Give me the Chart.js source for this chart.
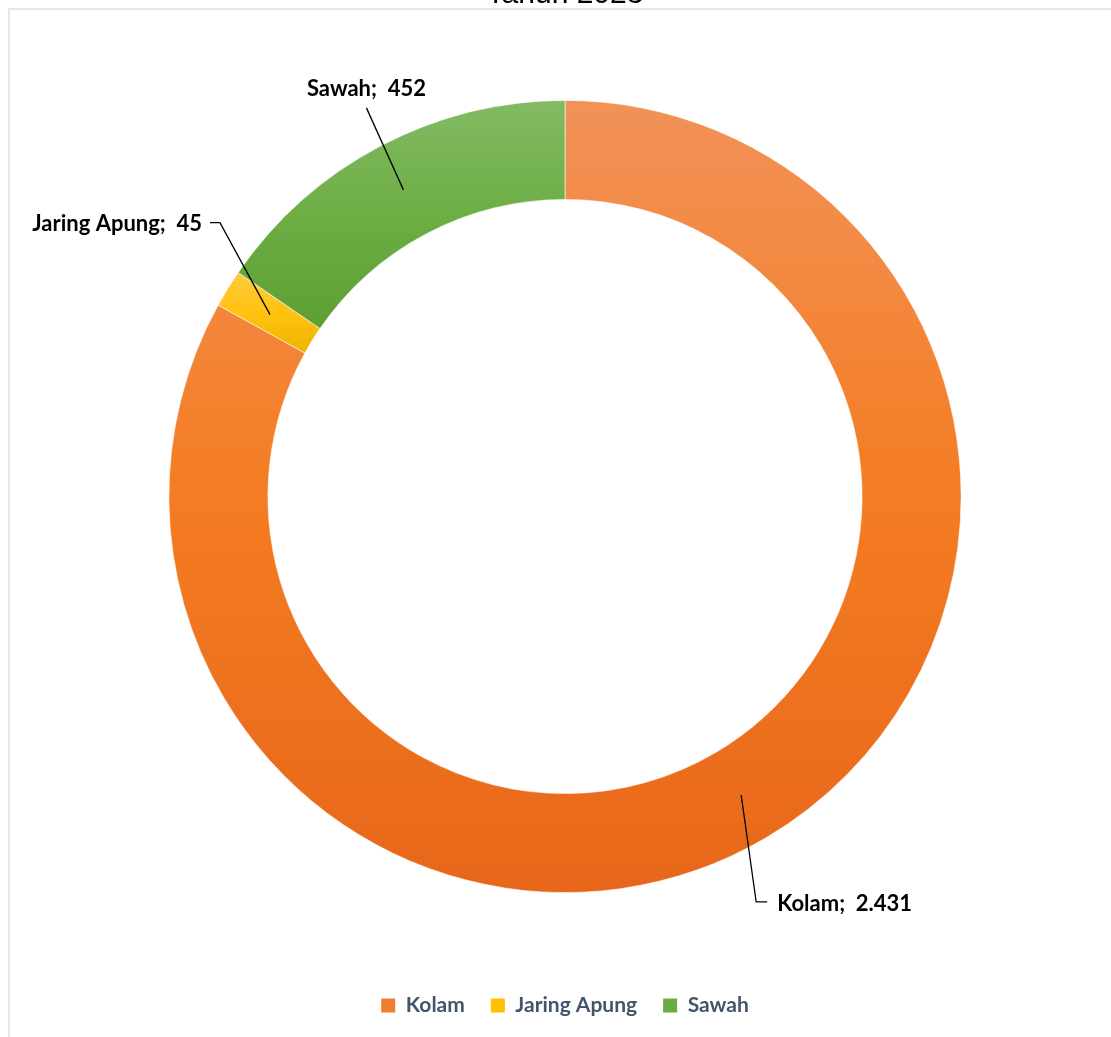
<!DOCTYPE html>
<html>
<head>
<meta charset="utf-8">
<script src="https://cdn.jsdelivr.net/npm/chart.js@4"></script>
<style>
  html, body { margin: 0; padding: 0; background: #fff; overflow: hidden; }
  body { width: 1111px; height: 1037px; position: relative; }
  #frame { position: absolute; left: 8px; top: 8px; width: 1200px; height: 1200px; border: 2px solid #E3E6EB; box-sizing: border-box; }
  #wrap { position: absolute; left: 9px; top: -40px; width: 1112px; height: 1077px; }
</style>
</head>
<body>
<div id="frame"></div>
<div id="wrap"><canvas id="chart"></canvas></div>
<script>
// data
const kategori = ["Kolam", "Jaring Apung", "Sawah"];
const nilai = [2431, 45, 452];
const labelTeks = ["Kolam;  2.431", "Jaring Apung;  45", "Sawah;  452"];

// warna gradasi (atas -> bawah) tiap irisan
const warnaAtas = ["#F29258", "#FFCA3E", "#83BA63"];
const warnaTengah = ["#F47C22", "#FFC210", "#6DAE45"];
const warnaBawah = ["#E7671A", "#EDB500", "#5E9F32"];
const warnaLegend = ["#F07E30", "#FFC000", "#6AAB45"];

// gradasi vertikal sesuai batas tiap irisan
function sliceGradient(context) {
  const chart = context.chart;
  const area = chart.chartArea;
  const i = context.dataIndex;
  if (!area) return warnaTengah[i];
  const total = nilai.reduce((a, b) => a + b, 0);
  let a0 = 0;
  for (let k = 0; k < i; k++) a0 += nilai[k] / total * Math.PI * 2;
  const a1 = a0 + nilai[i] / total * Math.PI * 2;
  const cx = (area.left + area.right) / 2;
  const cy = (area.top + area.bottom) / 2;
  const R = Math.min(area.width, area.height) / 2;
  const r = R * 0.75;
  const ys = [];
  [a0, a1].forEach(a => {
    ys.push(cy - R * Math.cos(a));
    ys.push(cy - r * Math.cos(a));
  });
  if (a0 <= 0 || a1 >= Math.PI * 2) ys.push(cy - R);
  if (a0 <= Math.PI && a1 >= Math.PI) ys.push(cy + R);
  const top = Math.min(...ys);
  const bottom = Math.max(...ys);
  const g = chart.ctx.createLinearGradient(0, top, 0, bottom);
  g.addColorStop(0, warnaAtas[i]);
  g.addColorStop(0.5, warnaTengah[i]);
  g.addColorStop(1, warnaBawah[i]);
  return g;
}

// label data dengan garis penunjuk
const leaderPlugin = {
  id: "leaderLabels",
  afterDatasetsDraw(chart, args, opts) {
    const ctx = chart.ctx;
    const meta = chart.getDatasetMeta(0);
    ctx.save();
    ctx.font = "bold 22px Lato";
    ctx.fillStyle = "#000";
    ctx.strokeStyle = "#000";
    ctx.lineWidth = 1.3;
    ctx.textBaseline = "middle";
    meta.data.forEach((arc, i) => {
      const p = arc.getProps(["x", "y", "startAngle", "endAngle", "innerRadius", "outerRadius"], true);
      const mid = (p.startAngle + p.endAngle) / 2;
      const rm = (p.innerRadius + p.outerRadius) / 2;
      const ax = p.x + Math.cos(mid) * rm;
      const ay = p.y + Math.sin(mid) * rm;
      const o = opts.offsets[i];
      const bx = ax + o.dx;
      const by = ay + o.dy;
      ctx.beginPath();
      ctx.moveTo(ax, ay);
      ctx.lineTo(bx, by);
      if (o.tail) ctx.lineTo(bx + o.tail, by);
      ctx.stroke();
      ctx.textAlign = o.align;
      ctx.fillText(labelTeks[i], bx + o.tx, by + o.ty);
    });
    ctx.restore();
  }
};

new Chart(document.getElementById("chart"), {
  type: "doughnut",
  data: {
    labels: kategori,
    datasets: [{
      data: nilai,
      backgroundColor: sliceGradient,
      borderColor: "rgba(255,255,255,0.7)",
      borderWidth: 0.8
    }]
  },
  options: {
    responsive: true,
    maintainAspectRatio: false,
    animation: false,
    cutout: "75%",
    layout: { padding: { top: 0, bottom: 11, left: 0, right: 0 } },
    plugins: {
      title: {
        display: true,
        text: "Tahun 2023",
        color: "#000",
        font: { family: "Liberation Sans", size: 30, weight: "normal", lineHeight: 1.2 },
        padding: { top: 17, bottom: 87 }
      },
      legend: {
        position: "bottom",
        title: { display: true, text: "", font: { size: 1, lineHeight: 1 }, padding: { top: 75, bottom: 0 } },
        labels: {
          boxWidth: 14,
          boxHeight: 14,
          padding: 26,
          color: "#44546A",
          font: { family: "Lato", size: 21, weight: "bold" },
          generateLabels(chart) {
            return kategori.map((k, i) => ({
              text: k,
              fillStyle: warnaLegend[i],
              strokeStyle: warnaLegend[i],
              lineWidth: 0,
              fontColor: "#44546A",
              index: i
            }));
          }
        }
      },
      tooltip: { enabled: false },
      leaderLabels: {
        offsets: [
          { dx: 15, dy: 107, tail: 11, align: "left", tx: 21, ty: 2 },
          { dx: -50, dy: -92, tail: -10, align: "right", tx: -18, ty: 1 },
          { dx: -37, dy: -82, tail: 0, align: "center", tx: 0, ty: -19 }
        ]
      }
    }
  },
  plugins: [leaderPlugin]
});
</script>
</body>
</html>
